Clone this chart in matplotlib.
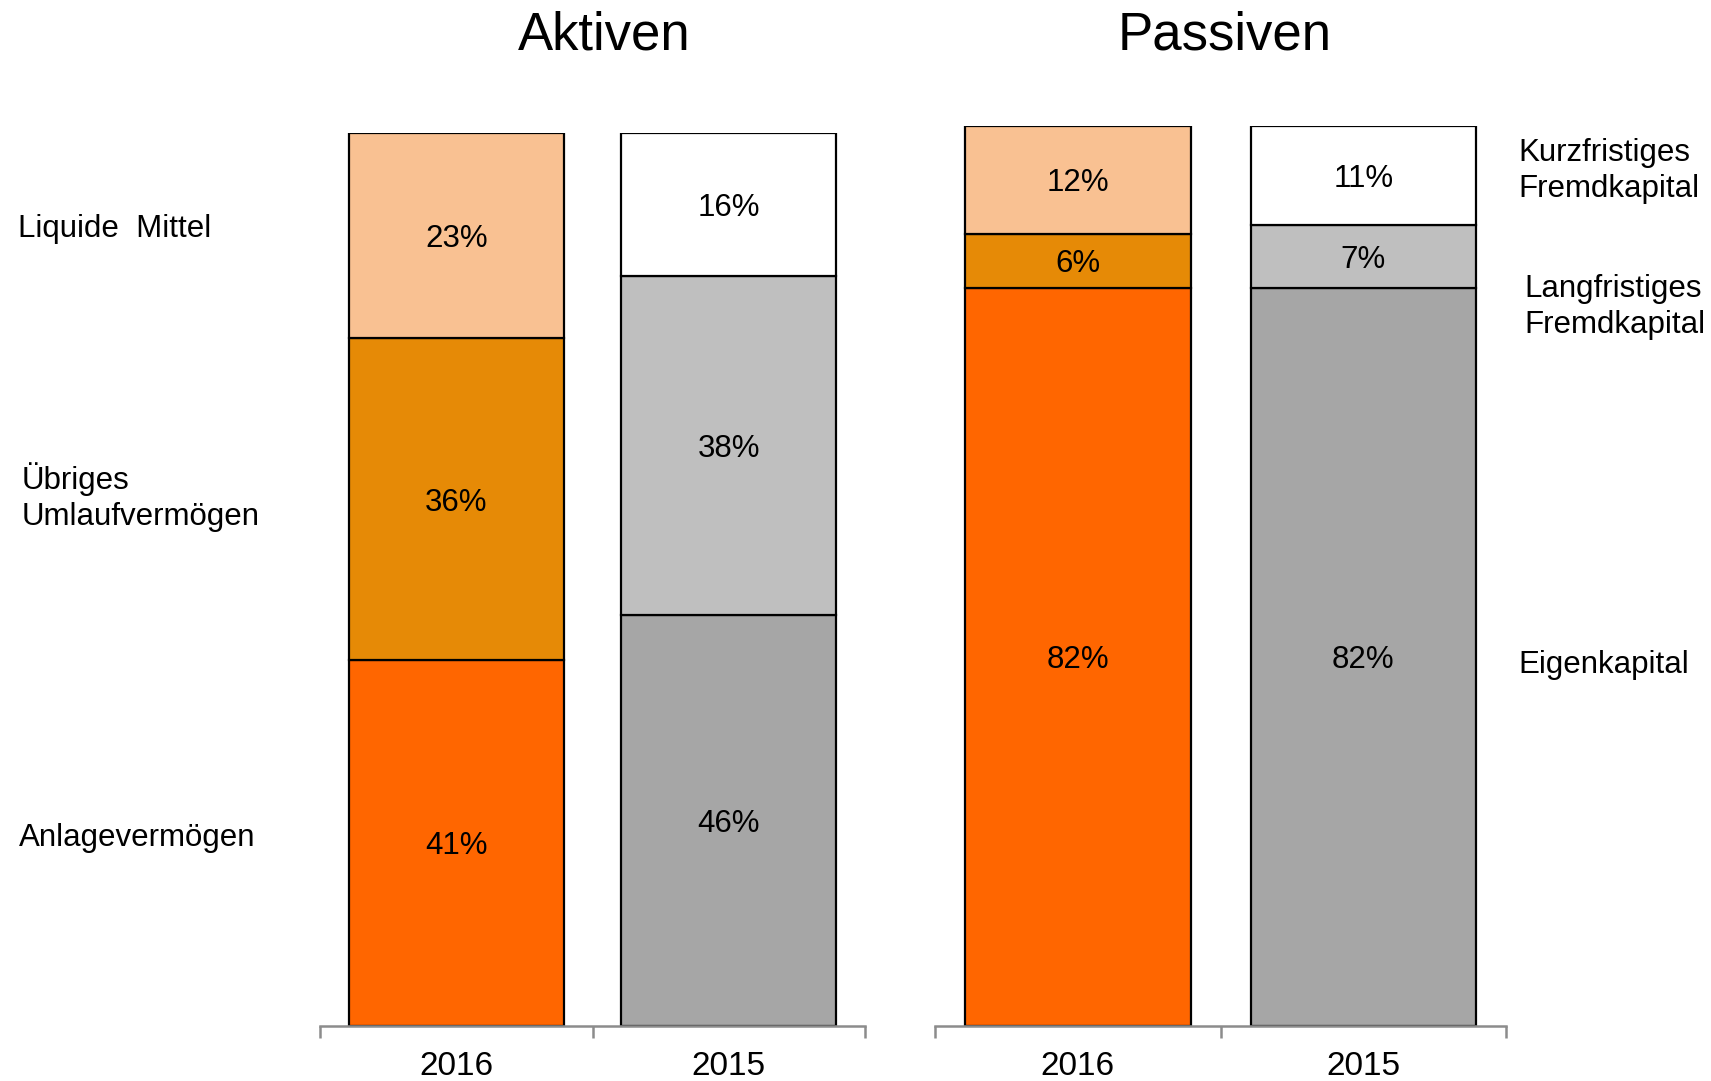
import matplotlib
matplotlib.use("Agg")
import matplotlib.pyplot as plt

plt.rcParams["font.family"] = ["Liberation Sans", "DejaVu Sans"]

# ── Data ──
years = ["2016", "2015"]

# Aktiven (bottom -> top)
aktiv_labels = ["Anlagevermögen", "Übriges\nUmlaufvermögen", "Liquide  Mittel"]
anlage = [41, 46]
umlauf = [36, 38]
liquide = [23, 16]

# Passiven (bottom -> top)
passiv_labels = ["Eigenkapital", "Langfristiges\nFremdkapital", "Kurzfristiges\nFremdkapital"]
eigen = [82, 82]
lang_fk = [6, 7]
kurz_fk = [12, 11]

# colours: column 0 = 2016 (orange), column 1 = 2015 (grey)
colors_bottom = ["#FF6600", "#A6A6A6"]
colors_mid = ["#E68A06", "#BFBFBF"]
colors_top = ["#F9C192", "#FFFFFF"]

fig = plt.figure(figsize=(17.11, 10.81), dpi=100)
fig.patch.set_facecolor("white")

ax1 = fig.add_axes([0.187, 0.0509, 0.3186, 0.826])
ax2 = fig.add_axes([0.5465, 0.0509, 0.3337, 0.833])


def stacked(ax, series):
    x = list(range(len(years)))
    bottom = [0] * len(years)
    for vals, cols in series:
        ax.bar(x, vals, bottom=bottom, width=0.79, color=cols,
               edgecolor="black", linewidth=1.6, zorder=2)
        for xi, v, b in zip(x, vals, bottom):
            ax.text(xi, b + v / 2, f"{v}%", ha="center", va="center_baseline",
                    fontsize=22.5, color="black", zorder=3)
        bottom = [b + v for b, v in zip(bottom, vals)]
    ax.set_xlim(-0.5, len(years) - 0.5)
    ax.set_ylim(0, 100)
    ax.set_yticks([])
    for side in ["left", "right", "top"]:
        ax.spines[side].set_visible(False)
    ax.spines["bottom"].set_color("#8C8C8C")
    ax.spines["bottom"].set_linewidth(1.8)
    ax.set_xticks([-0.5, 0.5, 1.5])
    ax.set_xticklabels([])
    ax.tick_params(axis="x", direction="out", length=8.5, width=1.8, color="#8C8C8C")
    ax.set_xticks(x, minor=True)
    ax.set_xticklabels(years, minor=True, fontsize=24)
    ax.tick_params(axis="x", which="minor", length=0, pad=18)


stacked(ax1, [(anlage, colors_bottom), (umlauf, colors_mid), (liquide, colors_top)])
stacked(ax2, [(eigen, colors_bottom), (lang_fk, colors_mid), (kurz_fk, colors_top)])

fig.text(0.353, 0.967, "Aktiven", ha="center", va="center", fontsize=38)
fig.text(0.7155, 0.967, "Passiven", ha="center", va="center", fontsize=38)

# row labels left
lab = dict(ha="left", va="center", fontsize=22.5, linespacing=1.28)
fig.text(0.0108, 1 - 229 / 1081, aktiv_labels[2], **lab)
fig.text(0.0125, 1 - 497 / 1081, aktiv_labels[1], **lab)
fig.text(0.0108, 1 - 838 / 1081, aktiv_labels[0], **lab)

# row labels right
fig.text(1518 / 1711, 1 - 171 / 1081, passiv_labels[2], **lab)
fig.text(1524 / 1711, 1 - 307 / 1081, passiv_labels[1], **lab)
fig.text(1518 / 1711, 1 - 665 / 1081, passiv_labels[0], **lab)

fig.savefig("out.png", dpi=100, facecolor="white")
plt.close(fig)
